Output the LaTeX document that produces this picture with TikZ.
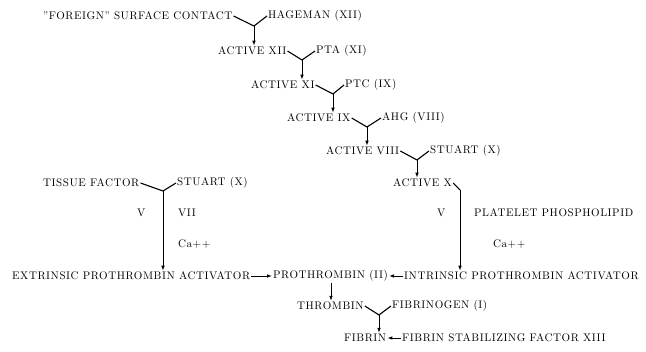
\documentclass[tikz,border=0pt]{standalone}
\usepackage{fontspec}
\setmainfont{Latin Modern Roman}[LetterSpace=5]
\usepackage{tikz}
\usetikzlibrary{positioning,arrows.meta,calc}

\begin{document}
\begin{tikzpicture}[x=1pt,y=-1pt,>={Latex[length=5pt,width=3.6pt]},
    lbl/.style={anchor=west,inner sep=1pt,font=\fontsize{11}{13}\selectfont},
    fork/.style={line width=1.1pt},
    feed/.style={->,line width=0.9pt}]
  \useasboundingbox (0,0) rectangle (646,352);
  % contact cascade
  \node[lbl] (contact) at (42,16) {"FOREIGN" SURFACE CONTACT};
  \node[lbl] (hageman) at (267,16) {HAGEMAN (XII)};
  \node[lbl] (axii) at (217,51) {ACTIVE XII};
  \node[lbl] (pta) at (315,51) {PTA (XI)};
  \node[lbl] (axi) at (250,85) {ACTIVE XI};
  \node[lbl] (ptc) at (344,85) {PTC (IX)};
  \node[lbl] (aix) at (286,118) {ACTIVE IX};
  \node[lbl] (ahg) at (381,118) {AHG (VIII)};
  \node[lbl] (aviii) at (325,151) {ACTIVE VIII};
  \node[lbl] (stuartb) at (429,151) {STUART (X)};
  \node[lbl] (ax) at (392,183) {ACTIVE X};
  \coordinate (j1) at (254,26); \coordinate (j2) at (302,60);
  \coordinate (j3) at (333,94); \coordinate (j4) at (367,127);
  \coordinate (j5) at (417,160); \coordinate (j6) at (460,190);
  \draw[fork] (contact.east) -- (j1) -- (hageman.west); \draw[feed] (j1) -- (j1 |- axii.north);
  \draw[fork] (axii.east) -- (j2) -- (pta.west); \draw[feed] (j2) -- (j2 |- axi.north);
  \draw[fork] (axi.east) -- (j3) -- (ptc.west); \draw[feed] (j3) -- (j3 |- aix.north);
  \draw[fork] (aix.east) -- (j4) -- (ahg.west); \draw[feed] (j4) -- (j4 |- aviii.north);
  \draw[fork] (aviii.east) -- (j5) -- (stuartb.west); \draw[feed] (j5) -- (j5 |- ax.north);
  % tissue side
  \node[lbl] (tissue) at (42,183) {TISSUE FACTOR};
  \node[lbl] (stuarta) at (176,183) {STUART (X)};
  \coordinate (j7) at (163,191);
  \node[lbl] (vl) at (136,213) {V};
  \node[lbl] (vii) at (177,213) {VII};
  \node[lbl] (cal) at (177,244) {Ca++};
  \node[lbl] (vr) at (436,213) {V};
  \node[lbl] (platelet) at (473,213) {PLATELET PHOSPHOLIPID};
  \node[lbl] (car) at (492,244) {Ca++};
  % prothrombin row
  \node[lbl] (extrinsic) at (11,276) {EXTRINSIC PROTHROMBIN ACTIVATOR};
  \node[lbl] (prothrombin) at (272,276) {PROTHROMBIN (II)};
  \node[lbl] (intrinsic) at (403,276) {INTRINSIC PROTHROMBIN ACTIVATOR};
  \node[lbl] (thrombin) at (296,306) {THROMBIN};
  \node[lbl] (fibrinogen) at (391,306) {FIBRINOGEN (I)};
  \node[lbl] (fibrin) at (343,338) {FIBRIN};
  \node[lbl] (stab) at (401,338) {FIBRIN STABILIZING FACTOR XIII};
  \coordinate (j8) at (379,315); \coordinate (j9) at (331,283);
  \draw[fork] (tissue.east) -- (j7) -- (stuarta.west); \draw[feed] (j7) -- (j7 |- extrinsic.north);
  \draw[fork] (ax.east) -- (j6); \draw[feed] (j6) -- (j6 |- intrinsic.north);
  \draw[feed] (extrinsic) -- (prothrombin); \draw[feed] (intrinsic) -- (prothrombin);
  \draw[feed] (j9) -- (j9 |- thrombin.north);
  \draw[fork] (thrombin.east) -- (j8) -- (fibrinogen.west); \draw[feed] (j8) -- (j8 |- fibrin.north);
  \draw[feed] (stab) -- (fibrin);
\end{tikzpicture}
\end{document}
